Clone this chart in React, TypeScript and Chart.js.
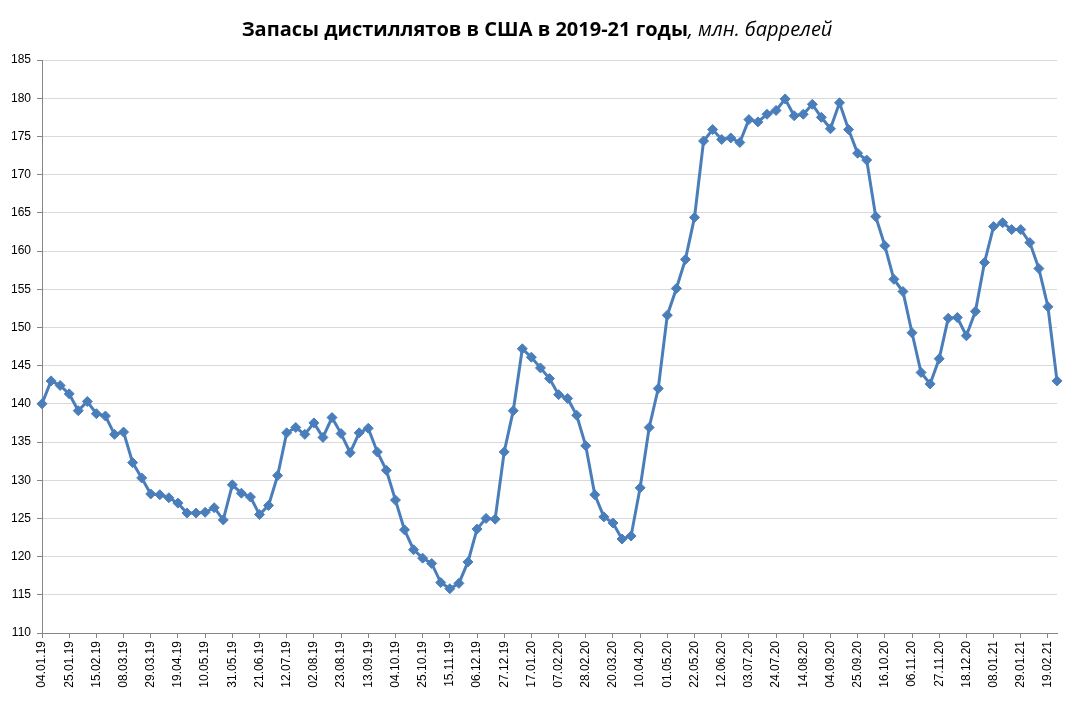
import React, { useEffect, useRef } from "react";
import { Chart, registerables } from "chart.js";

Chart.register(...registerables);

const TITLE_BOLD = "Запасы дистиллятов в США в 2019-21 годы";
const TITLE_ITALIC = ", млн. баррелей";

const START_DATE = [2019, 0, 4]; // 04.01.19, weekly data
const LABEL_EVERY = 3;

const Y_MIN = 110;
const Y_MAX = 185;
const Y_STEP = 5;

const STOCKS = [
  140.0, 143.0, 142.4, 141.3, 139.1, 140.3, 138.7, 138.4, 136.0, 136.3,
  132.3, 130.3, 128.2, 128.1, 127.7, 127.0, 125.7, 125.7, 125.8, 126.4,
  124.8, 129.4, 128.3, 127.8, 125.5, 126.7, 130.6, 136.2, 136.9, 136.0,
  137.5, 135.6, 138.2, 136.1, 133.6, 136.2, 136.8, 133.7, 131.3, 127.4,
  123.5, 120.9, 119.8, 119.1, 116.6, 115.8, 116.5, 119.3, 123.6, 125.0,
  124.9, 133.7, 139.1, 147.2, 146.1, 144.7, 143.3, 141.2, 140.7, 138.5,
  134.5, 128.1, 125.2, 124.4, 122.3, 122.7, 129.0, 136.9, 142.0, 151.6,
  155.1, 158.9, 164.4, 174.4, 175.9, 174.6, 174.8, 174.2, 177.2, 176.9,
  177.9, 178.4, 179.9, 177.7, 177.9, 179.2, 177.5, 176.0, 179.4, 175.9,
  172.8, 171.9, 164.5, 160.7, 156.3, 154.7, 149.3, 144.1, 142.6, 145.9,
  151.2, 151.3, 148.9, 152.1, 158.5, 163.2, 163.7, 162.8, 162.8, 161.1,
  157.7, 152.7, 143.0,
];

function pad2(n: number) {
  return n < 10 ? "0" + n : String(n);
}

const WEEKS: string[] = STOCKS.map((_, i) => {
  const d = new Date(START_DATE[0], START_DATE[1], START_DATE[2] + i * 7);
  return `${pad2(d.getDate())}.${pad2(d.getMonth() + 1)}.${String(d.getFullYear()).slice(2)}`;
});

const BLUE = "#4A7EBB";
const GRID = "#D9D9D9";
const AXIS = "#868686";
const FONT = "'Liberation Sans', Arial, sans-serif";
const TITLE_FONT = "'Open Sans', sans-serif";

const titlePlugin = {
  id: "mixedTitle",
  afterDraw(chart: any) {
    const ctx = chart.ctx;
    ctx.save();
    ctx.textBaseline = "alphabetic";
    ctx.fillStyle = "#000";
    const boldFont = `bold 20px ${TITLE_FONT}`;
    const italicFont = `italic 20px ${TITLE_FONT}`;
    ctx.font = boldFont;
    const w1 = ctx.measureText(TITLE_BOLD).width;
    ctx.font = italicFont;
    const w2 = ctx.measureText(TITLE_ITALIC).width;
    const cx = 537;
    const x0 = cx - (w1 + w2) / 2;
    const y = 36;
    ctx.font = boldFont;
    ctx.textAlign = "left";
    ctx.fillText(TITLE_BOLD, x0, y);
    ctx.font = italicFont;
    ctx.fillText(TITLE_ITALIC, x0 + w1, y);
    ctx.restore();
  },
};

export default function App() {
  const ref = useRef<HTMLCanvasElement | null>(null);

  useEffect(() => {
    if (!ref.current) return;
    const chart = new Chart(ref.current, {
      type: "line",
      data: {
        labels: WEEKS,
        datasets: [
          {
            data: STOCKS,
            borderColor: BLUE,
            backgroundColor: BLUE,
            borderWidth: 3,
            pointStyle: "rectRot",
            pointRadius: 5,
            pointHoverRadius: 5,
            pointBackgroundColor: BLUE,
            pointBorderColor: BLUE,
            pointBorderWidth: 1,
            tension: 0,
          },
        ],
      },
      options: {
        responsive: false,
        animation: false,
        events: [],
        layout: { padding: { top: 60, right: 24, left: 0, bottom: 0 } },
        plugins: {
          legend: { display: false },
          title: { display: false },
          tooltip: { enabled: false },
        },
        scales: {
          x: {
            type: "category",
            offset: false,
            grid: {
              drawOnChartArea: false,
              drawTicks: true,
              tickLength: 5,
              tickColor: (c: any) => (c.index % LABEL_EVERY === 0 ? AXIS : "rgba(0,0,0,0)"),
            },
            border: { display: true, color: AXIS, width: 1 },
            ticks: {
              autoSkip: false,
              maxRotation: 90,
              minRotation: 90,
              padding: 3,
              color: "#000",
              font: { family: FONT, size: 12 },
              callback: (_v: any, i: number) => (i % LABEL_EVERY === 0 ? WEEKS[i] : ""),
            },
            afterFit: (scale: any) => {
              scale.height = 702 - 633;
            },
          },
          y: {
            min: Y_MIN,
            max: Y_MAX,
            grid: {
              color: GRID,
              lineWidth: 1,
              tickColor: AXIS,
              tickLength: 5,
            },
            border: { display: true, color: AXIS, width: 1 },
            ticks: {
              stepSize: Y_STEP,
              padding: 6,
              color: "#000",
              font: { family: FONT, size: 12 },
            },
            afterFit: (scale: any) => {
              scale.width = 42;
            },
          },
        },
      },
      plugins: [titlePlugin],
    });
    return () => chart.destroy();
  }, []);

  return (
    <div style={{ position: "fixed", left: 0, top: 0, width: 1081, height: 702, background: "#fff" }}>
      <canvas ref={ref} width={1081} height={702} style={{ width: 1081, height: 702, display: "block" }} />
    </div>
  );
}
